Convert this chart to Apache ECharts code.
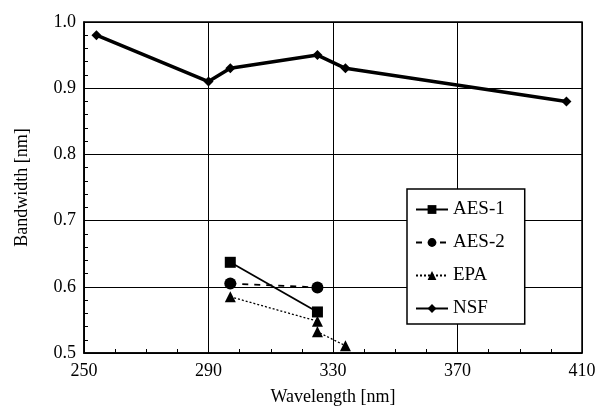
<!DOCTYPE html>
<html>
<head>
<meta charset="utf-8">
<script src="https://cdn.jsdelivr.net/npm/echarts@6/dist/echarts.min.js"></script>
<style>
  html, body { margin: 0; padding: 0; background: #fff; }
  #chart { width: 599px; height: 407px; }
</style>
</head>
<body>
<div id="chart"></div>
<script>
// wavelength [nm] and bandwidth [nm]
const nsfX = [254, 290, 297, 325, 334, 405];
const nsfY = [0.98, 0.91, 0.93, 0.95, 0.93, 0.88];
const aes1X = [297, 325];
const aes1Y = [0.637, 0.562];
const aes2X = [297, 325];
const aes2Y = [0.605, 0.599];
const epaX = [297, 325, 325, 334];
const epaY = [0.585, 0.548, 0.532, 0.511];
const xTicks = [250, 290, 330, 370, 410];
const yTicks = [0.5, 0.6, 0.7, 0.8, 0.9, 1.0];

const pairs = (xs, ys) => xs.map((x, i) => [x, ys[i]]);
const font = 'Liberation Serif';

const chartDom = document.getElementById('chart');
const myChart = echarts.init(chartDom);

function lineSeries(name, data, symbol, size, width, type) {
    return {
        name: name,
        type: 'line',
        data: data,
        symbol: symbol,
        symbolSize: size,
        showSymbol: true,
        animation: false,
        itemStyle: { color: '#000' },
        lineStyle: { color: '#000', width: width, type: type }
    };
}

const option = {
    backgroundColor: '#fff',
    textStyle: { fontFamily: font, color: '#000' },
    grid: {
        left: 84, right: 17, top: 22, bottom: 54,
        outerBoundsMode: 'none',
        show: true, borderColor: '#000', borderWidth: 1.5
    },
    legend: {
        orient: 'vertical',
        left: 407, top: 189,
        padding: [11, 20, 6, 8],
        itemGap: 14,
        itemWidth: 32, itemHeight: 11,
        backgroundColor: '#fff',
        borderColor: '#000', borderWidth: 1.5, borderRadius: 0,
        textStyle: { fontFamily: font, fontSize: 19, color: '#000' },
        data: ['AES-1', 'AES-2', 'EPA', 'NSF']
    },
    xAxis: {
        type: 'value',
        min: xTicks[0], max: xTicks[xTicks.length - 1], interval: 40,
        name: 'Wavelength [nm]',
        nameLocation: 'middle', nameGap: 35,
        nameTextStyle: { fontFamily: font, fontSize: 18, color: '#000' },
        axisLine: { lineStyle: { color: '#000', width: 1.5 } },
        axisTick: { inside: true, length: 4, lineStyle: { color: '#000' } },
        minorTick: { show: true, splitNumber: 4, length: 4, lineStyle: { color: '#000' } },
        axisLabel: { fontFamily: font, fontSize: 18, color: '#000', margin: 9 },
        splitLine: { show: true, lineStyle: { color: '#000', width: 1 } }
    },
    yAxis: {
        type: 'value',
        min: yTicks[0], max: yTicks[yTicks.length - 1], interval: 0.1,
        name: 'Bandwidth [nm]',
        nameLocation: 'middle', nameGap: 53,
        nameTextStyle: { fontFamily: font, fontSize: 18, color: '#000' },
        axisLine: { show: true, lineStyle: { color: '#000', width: 1.5 } },
        axisTick: { inside: true, length: 4, lineStyle: { color: '#000' } },
        minorTick: { show: true, splitNumber: 5, length: 4, lineStyle: { color: '#000' } },
        axisLabel: {
            fontFamily: font, fontSize: 18, color: '#000', margin: 8,
            formatter: v => v.toFixed(1)
        },
        splitLine: { show: true, lineStyle: { color: '#000', width: 1 } }
    },
    series: [
        lineSeries('AES-1', pairs(aes1X, aes1Y), 'rect', 11, 1.8, 'solid'),
        lineSeries('AES-2', pairs(aes2X, aes2Y), 'circle', 12, 1.8, [6, 6]),
        lineSeries('EPA', pairs(epaX, epaY), 'triangle', 11, 1.3, [2, 2]),
        lineSeries('NSF', pairs(nsfX, nsfY), 'diamond', 10, 3.5, 'solid')
    ]
};

myChart.setOption(option);
</script>
</body>
</html>
